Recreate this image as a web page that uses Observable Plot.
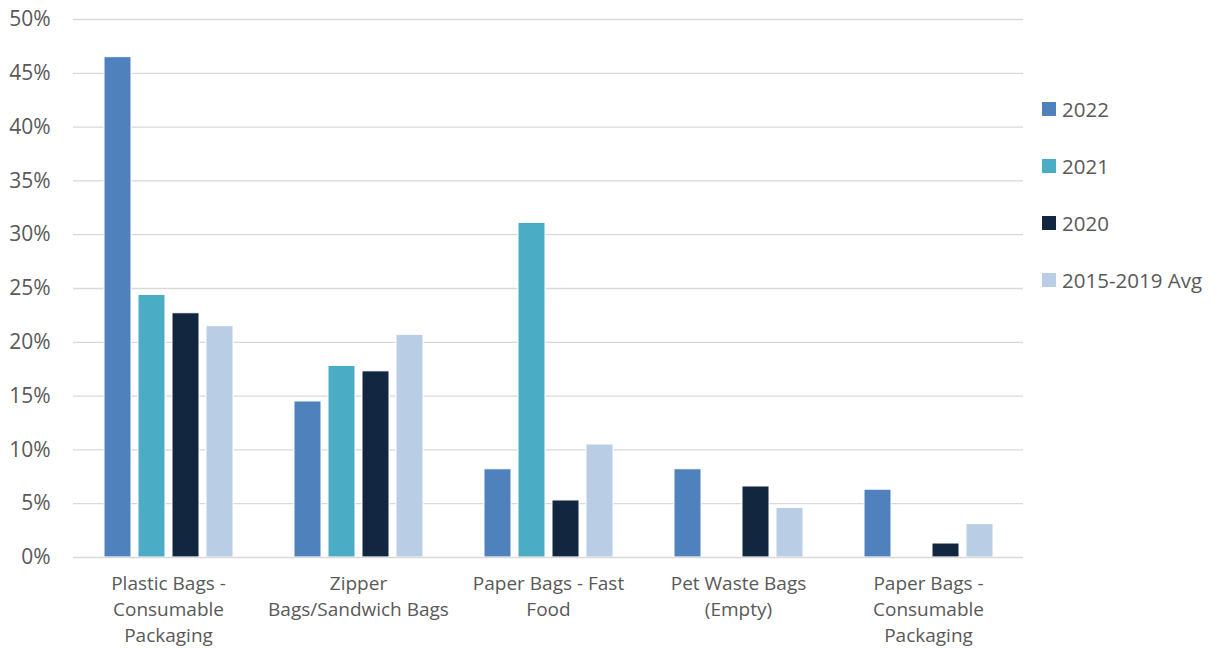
<!DOCTYPE html>
<html>
<head>
<meta charset="utf-8">
<script src="https://cdn.jsdelivr.net/npm/d3@7"></script>
<script src="https://cdn.jsdelivr.net/npm/@observablehq/plot@0.6"></script>
<style>
  html, body { margin: 0; padding: 0; background: #fff; }
  #wrap { position: relative; width: 1220px; height: 648px; font-family: "Open Sans", sans-serif; }
  #legend { position: absolute; left: 1042px; top: 80px; color: #595959; font-size: 20.5px; }
  .item { position: absolute; left: 0; white-space: nowrap; display: flex; align-items: center; height: 28px; }
  .sw { width: 14px; height: 14px; margin-right: 6px; display: inline-block; }
</style>
</head>
<body>
<div id="wrap"><div id="chart"></div><div id="legend"></div></div>
<script>
const categories = [
  "Plastic Bags - Consumable Packaging",
  "Zipper Bags/Sandwich Bags",
  "Paper Bags - Fast Food",
  "Pet Waste Bags (Empty)",
  "Paper Bags - Consumable Packaging"
];
const categoryLabels = [
  "Plastic Bags -\nConsumable\nPackaging",
  "Zipper\nBags/Sandwich Bags",
  "Paper Bags - Fast\nFood",
  "Pet Waste Bags\n(Empty)",
  "Paper Bags -\nConsumable\nPackaging"
];
const series = ["2022", "2021", "2020", "2015-2019 Avg"];
const colors = ["#4f81bd", "#4bacc6", "#12263f", "#b9cde5"];
const v2022 = [46.5, 14.5, 8.2, 8.2, 6.3];
const v2021 = [24.4, 17.8, 31.1, 0, 0];
const v2020 = [22.7, 17.3, 5.3, 6.6, 1.3];
const vAvg  = [21.5, 20.7, 10.5, 4.6, 3.1];
const yTicks = [0, 5, 10, 15, 20, 25, 30, 35, 40, 45, 50];

const seriesValues = [v2022, v2021, v2020, vAvg];
const data = [];
categories.forEach((c, i) => {
  series.forEach((s, j) => {
    const v = seriesValues[j][i];
    if (v > 0) data.push({category: c, series: s, value: v});
  });
});
const labelOf = new Map(categories.map((c, i) => [c, categoryLabels[i]]));

const chart = Plot.plot({
  width: 1025,
  height: 648,
  marginTop: 19,
  marginBottom: 91,
  marginLeft: 73,
  marginRight: 2,
  style: {fontFamily: "'Open Sans', sans-serif", fontSize: "19px", color: "#595959", background: "#fff"},
  fx: {domain: categories, padding: 0, label: null},
  x: {domain: series, axis: null, paddingInner: 0.217, paddingOuter: 0.855},
  y: {domain: [0, 50], label: null},
  color: {domain: series, range: colors},
  marks: [
    Plot.gridY(yTicks.filter(d => d > 0), {stroke: "#d9d9d9", strokeOpacity: 1, strokeWidth: 1.3}),
    Plot.axisY(yTicks, {tickSize: 0, tickPadding: 23, tickFormat: d => d + "%", fontSize: 21, fill: "#595959", label: null}),
    Plot.barY(data, {fx: "category", x: "series", y: "value", fill: "series", stroke: "white", strokeWidth: 1}),
    Plot.ruleY([0], {stroke: "#d9d9d9", strokeWidth: 1.5}),
    Plot.axisFx({anchor: "bottom", tickSize: 0, tickPadding: 14, tickFormat: d => labelOf.get(d), lineHeight: 1.37, fontSize: 19, fill: "#595959", label: null})
  ]
});
document.getElementById("chart").appendChild(chart);

const legend = document.getElementById("legend");
series.forEach((s, j) => {
  const it = document.createElement("div");
  it.className = "item";
  it.style.top = (j * 57 + 15) + "px";
  it.innerHTML = `<span class="sw" style="background:${colors[j]}"></span><span>${s}</span>`;
  legend.appendChild(it);
});
</script>
</body>
</html>
